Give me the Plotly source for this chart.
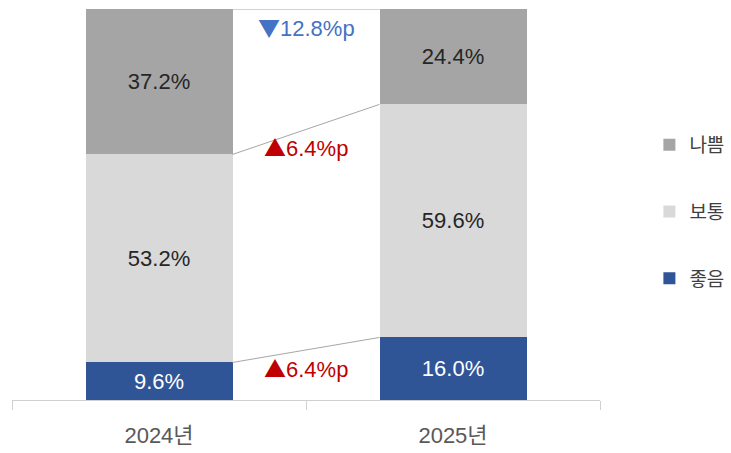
import plotly.graph_objects as go

# Survey response shares by year (%)
years = ["2024년", "2025년"]
series_names = ["좋음", "보통", "나쁨"]
good = [9.6, 16.0]
normal = [53.2, 59.6]
bad = [37.2, 24.4]

colors = {"좋음": "#2f5597", "보통": "#d9d9d9", "나쁨": "#a5a5a5"}
text_colors = {"좋음": "#ffffff", "보통": "#262626", "나쁨": "#262626"}
legend_rank = {"나쁨": 1, "보통": 2, "좋음": 3}
FONT = "Liberation Sans, Noto Sans CJK KR, sans-serif"
BAR_W = 0.5

values = {"좋음": good, "보통": normal, "나쁨": bad}

fig = go.Figure()
for name in series_names:
    fig.add_trace(go.Bar(
        x=years, y=values[name], name=name, legendgroup=name,
        legendrank=legend_rank[name],
        width=BAR_W, marker=dict(color=colors[name], line=dict(width=0)),
        texttemplate="%{y:.1f}%", textposition="inside",
        insidetextanchor="middle",
        textfont=dict(family=FONT, size=22, color=text_colors[name]),
        hoverinfo="skip",
    ))

# Connector lines between stack boundaries and change labels
cum = [0.0, 0.0]
for name in series_names:
    v = values[name]
    cum = [cum[0] + v[0], cum[1] + v[1]]
    fig.add_shape(type="line", xref="x", yref="y",
                  x0=0 + BAR_W / 2, x1=1 - BAR_W / 2, y0=cum[0], y1=cum[1],
                  line=dict(color="#a6a6a6", width=1))
    delta = round(v[1] - v[0], 1)
    arrow = "▲" if delta > 0 else "▼"
    col = "#c00000" if delta > 0 else "#4472c4"
    fig.add_annotation(x=0.5, y=(cum[0] + cum[1]) / 2, xref="x", yref="y",
                       text=(f'<span style="font-family:Noto Sans CJK KR">{arrow}</span>'
                             f"{abs(delta):.1f}%p"),
                       showarrow=False, yanchor="top", yshift=1,
                       font=dict(family=FONT, size=22, color=col))

fig.update_layout(
    barmode="stack",
    width=731, height=453,
    margin=dict(l=12, r=131, t=9, b=53, autoexpand=False),
    plot_bgcolor="white", paper_bgcolor="white",
    showlegend=True,
    legend=dict(x=1.084, xanchor="left", y=0.481, yanchor="middle",
                traceorder="grouped", tracegroupgap=39, itemwidth=30,
                font=dict(family=FONT, size=19, color="#404040")),
    xaxis=dict(type="category", tickson="boundaries", ticks="outside",
               ticklen=9, tickcolor="#d0d0d0", showline=True,
               linecolor="#d0d0d0", linewidth=1, showgrid=False,
               range=[-0.5, 1.5], ticklabelstandoff=16,
               tickfont=dict(family=FONT, size=22, color="#595959")),
    yaxis=dict(range=[0, 100], visible=False, showgrid=False),
)

fig.write_html("out.html")
